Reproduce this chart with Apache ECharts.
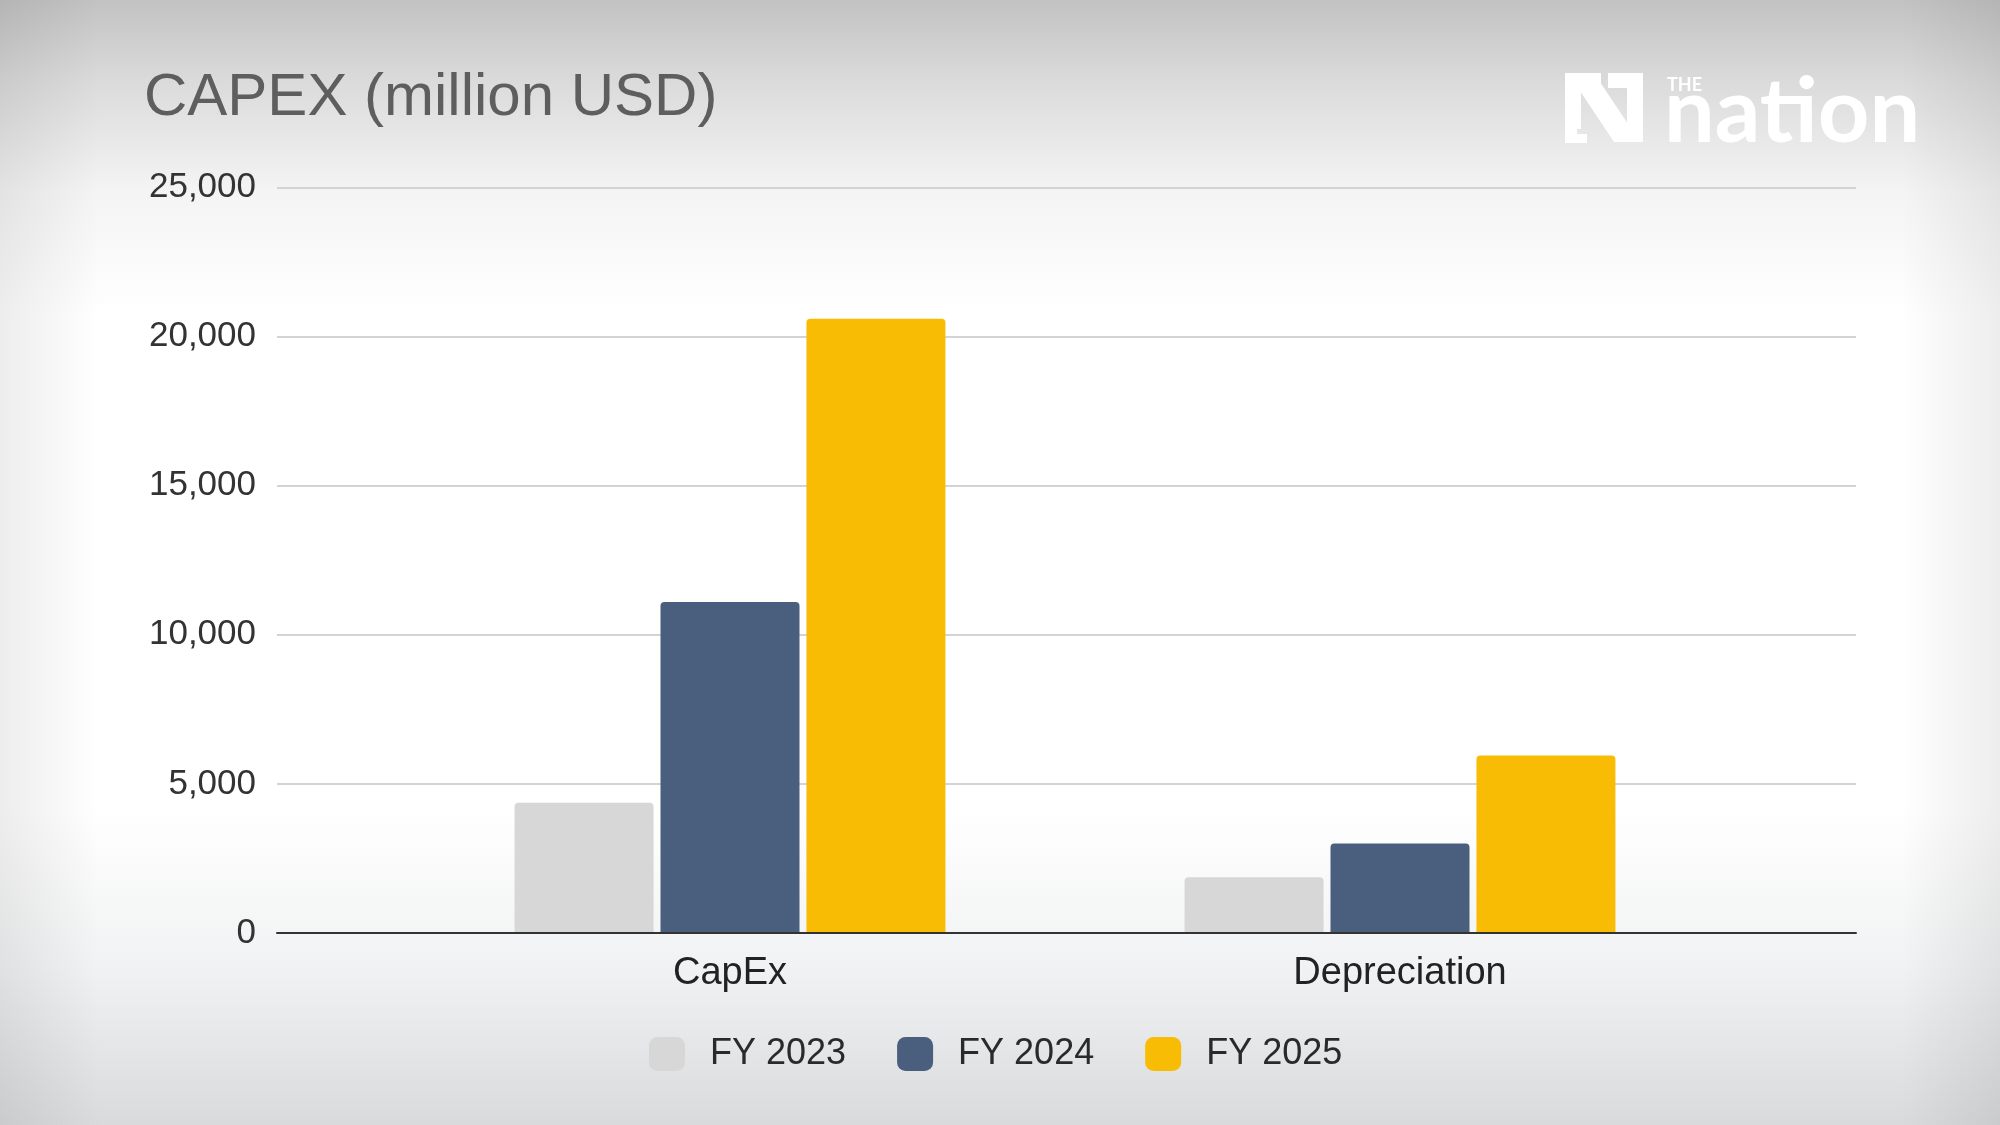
<!DOCTYPE html>
<html>
<head>
<meta charset="utf-8">
<script src="https://cdn.jsdelivr.net/npm/echarts@6/dist/echarts.min.js"></script>
<style>html,body{margin:0;padding:0;}#c{width:2000px;height:1125px;}</style>
</head>
<body>
<div id="c"></div>
<script>
var categories = ['CapEx', 'Depreciation'];
var seriesNames = ['FY 2023', 'FY 2024', 'FY 2025'];
var fy2023 = [4370, 1870];
var fy2024 = [11100, 3000];
var fy2025 = [20600, 5950];
var yMin = 0, yMax = 25000, yStep = 5000;
var colors = ['#d7d7d7', '#4a5f7e', '#f8bc05'];

var chart = echarts.init(document.getElementById('c'));
var font = 'Liberation Sans, Arial, sans-serif';
var values = [fy2023, fy2024, fy2025];
var W = '#ffffff';

chart.setOption({
  backgroundColor: {
    type: 'linear', x: 0, y: 0, x2: 0, y2: 1,
    colorStops: [
      {offset: 0, color: '#c2c2c2'},
      {offset: 0.07, color: '#dadada'},
      {offset: 0.17, color: '#f4f4f4'},
      {offset: 0.28, color: '#ffffff'},
      {offset: 0.72, color: '#ffffff'},
      {offset: 0.86, color: '#f1f2f3'},
      {offset: 1, color: '#d9dadb'}
    ]
  },
  graphic: [
    {type: 'rect', z: -10, silent: true, shape: {x: 0, y: 0, width: 2000, height: 1125},
      style: {fill: {type: 'linear', x: 0, y: 0, x2: 1, y2: 0, colorStops: [
        {offset: 0, color: 'rgba(0,0,0,0.07)'}, {offset: 0.05, color: 'rgba(0,0,0,0)'},
        {offset: 0.95, color: 'rgba(0,0,0,0)'}, {offset: 1, color: 'rgba(0,0,0,0.07)'}]}}},
    {type: 'text', left: 144, top: 68, style: {text: 'CAPEX (million USD)', font: '60px ' + font, fill: '#5e5e5e'}},
    {type: 'group', silent: true, children: [
      {type: 'rect', shape: {x: 1565, y: 73, width: 16, height: 56}, style: {fill: W}},
      {type: 'rect', shape: {x: 1565, y: 73, width: 36, height: 16}, style: {fill: W}},
      {type: 'polygon', shape: {points: [[1568, 73], [1594, 73], [1640, 142], [1614, 142]]}, style: {fill: W}},
      {type: 'rect', shape: {x: 1627, y: 86, width: 16, height: 56}, style: {fill: W}},
      {type: 'rect', shape: {x: 1608, y: 73, width: 35, height: 15}, style: {fill: W}},
      {type: 'rect', shape: {x: 1565, y: 134, width: 22, height: 9}, style: {fill: W}},
      {type: 'rect', shape: {x: 1565, y: 122, width: 12, height: 21}, style: {fill: W}}
    ]},
    {type: 'text', left: 1667, top: 76, style: {text: 'THE', font: 'bold 18px Lato, sans-serif', fill: W}},
    {type: 'text', left: 1664, top: 68, style: {text: 'nation', font: 'bold 90px Lato, sans-serif', fill: W}}
  ],
  legend: {
    data: seriesNames,
    left: 644, top: 1031,
    icon: 'roundRect',
    itemWidth: 36, itemHeight: 34, itemGap: 51,
    textStyle: {fontFamily: font, fontSize: 36, color: '#2a2a2a', padding: [0, 0, 0, 20]}
  },
  grid: [
    {left: 277, right: 144, top: 187.5, bottom: 192},
    {left: 395, right: 265, top: 187.5, bottom: 192}
  ],
  xAxis: [
    {gridIndex: 0, type: 'category', data: categories, axisLine: {lineStyle: {color: '#333', width: 2}},
      axisTick: {show: false}, axisLabel: {show: false}, z: 10},
    {gridIndex: 1, type: 'category', data: categories, axisLine: {show: false}, axisTick: {show: false},
      axisLabel: {fontFamily: font, fontSize: 38, color: '#222', margin: 22}}
  ],
  yAxis: [
    {gridIndex: 0, type: 'value', min: yMin, max: yMax, interval: yStep,
      axisLine: {show: false}, axisTick: {show: false},
      splitLine: {lineStyle: {color: '#d3d3d3', width: 2}},
      axisLabel: {fontFamily: font, fontSize: 35, color: '#333', margin: 21,
        formatter: function (v) { return v.toLocaleString('en-US'); }}},
    {gridIndex: 1, type: 'value', min: yMin, max: yMax, interval: yStep, show: false, splitLine: {show: false}}
  ],
  series: seriesNames.map(function (n, i) {
    return {
      name: n, type: 'bar', xAxisIndex: 1, yAxisIndex: 1,
      data: values[i], barWidth: 139, barGap: '5%',
      itemStyle: {color: colors[i], borderRadius: [4, 4, 0, 0]}
    };
  }),
  animation: false
});
</script>
</body>
</html>
